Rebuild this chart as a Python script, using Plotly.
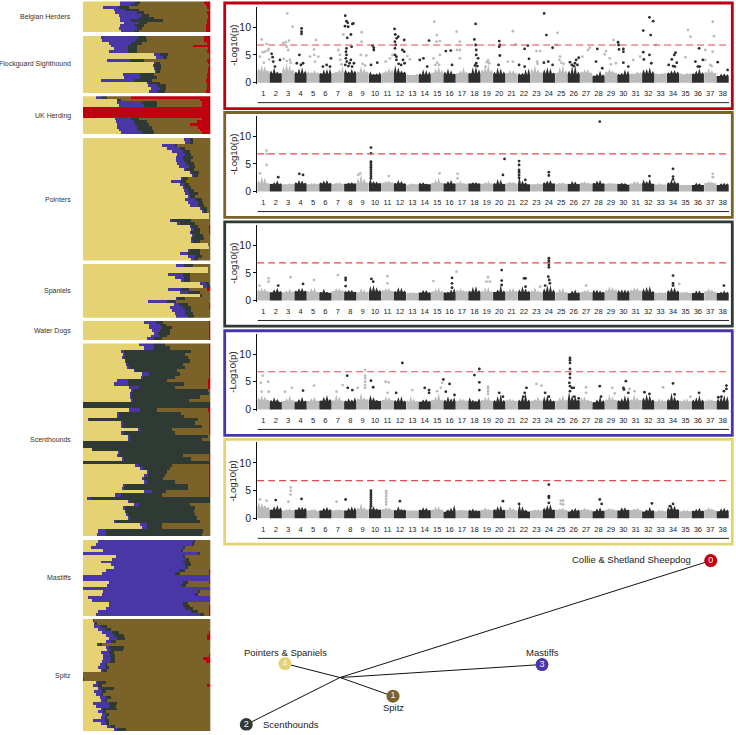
import plotly.graph_objects as go

W, H = 736, 735
Y_SPAN = 731.5
FONT = "Liberation Sans"
YELLOW, PURPLE, DARK, BROWN, RED = "#E4D273", "#4A37A6", "#2F3A35", "#7A6229", "#BE0010"
ADMIX_COLORS = [YELLOW, PURPLE, DARK, BROWN, RED]

# Admixture: cumulative percentage at the end of yellow, purple, dark, brown; red fills the rest
BELGIAN = [(29,41,45,95),(29,38,43,96),(16,28,36,97),(24,33,44,99),(25,42,48,97),(28,46,52,98),
           (29,44,56,98),(29,38,63,97),(32,44,50,97),(29,41,48,96),(28,42,46,96),(30,40,44,96)]
FLOCKGUARD = [(14,43,49,95),(15,41,50,95),(20,38,46,97),(22,35,42,86),(24,35,42,98),(20,35,42,97),
              (56,60,67,99),(57,63,66,99),(19,37,48,97),(56,57,60,98),(55,56,61,99),(56,57,61,98),
              (57,57.5,60,98),(31,45,56,97),(32,45,58,97),(14,40,54,96),(50,52,60,97),(51,58,65,97),
              (53,60,65,97),(52,58,64,96)]
UK_HERDING = [(10,15,19,38),(27,27,30,92),(27,46,58,93),(28,48,58,93),(0,0,0,0),(0,0,0,0),(0,0,0,0),
              (0,0,0,0),(25,38,44,93),(26,40,50,89),(27,41,52,84),(27,42,54,90),(28,43,55,92),(30,46,56,93)]
POINTERS = [(79,84,86,100),(80,84,86,100),(62,72,74,100),(66,76,80,100),(70,78,84,100),(74,80,85,100),
            (73,78,86,100),(73,79,85,100),(74,81,87,100),(75,83,88,100),(79,81,87,100),(84,85,91,100),
            (86,87,90,100),(77,78,82,100),(69,77,81,100),(76,79,83,100),(78,80,85,100),(79,82,87,100),
            (80,83,90,100),(82,84,88,100),(80,88,93,100),(82,90,94,100),(84,90,95,100),(92,93,97,100),
            (94,95,97,100),(99,99,99,100),(99,99,99,100),(68,70,85,100),(74,76,88,100),(84,85,90,99),
            (85,87,92,99),(84,85,92,99),(86,87,94,100),(85,85.5,95,100),(85,86,92,100),(98,98,98,100),
            (99,99,99,100),(82,84,92,100),(76,82,92,100),(82,88,93,100),(85,87,90,100)]
SPANIELS = [(73,79,86,100),(98,98,98,100),(98,98,98,100),(67,78,84,100),(72,79,84,100),(77,79,84,100),
            (92,96,99,100),(94,97,100,100),(67,77,83,97),(76,82,92,100),(92,92,93,100),(73,74,80,100),
            (51,66,73,100),(71,75,82,99),(68,78,85,99),(70,80,85,100),(72,80,86,100),(73,82,87,100)]
WATER_DOGS = [(48,57,63,99),(52,60,65,99),(52,62,70,99),(54,60,68,99),(56,59,68,99),(53,60,66,99),(50,56,62,99)]
SCENTHOUNDS = [(44,55,64,99),(48,56,68,99),(30,32,85,99),(31,33,80,99),(31,32,82,99),(33,34,84,99),
               (34,35,78,99),(35,36,80,99),(40,41,74,99),(46,52,76,99),(46,47,72,99),(27,35,66,98),
               (24,35,79,98),(36,44,72,98),(38,39,98,100),(37,38,99,100),(37,38,92,100),(38,39,83,100),
               (0,0,100,100),(0,0,100,100),(36,45,58,98),(27,28,77,99),(27,28,79,99),(4,5,90,99),
               (30,31,88,99),(30,31,93,99),(43,45,70,99),(30,32,72,99),(35,37,98,100),(36,37,93,100),
               (0,0,100,100),(0,0,100,100),(7,7,100,100),(28,29,100,100),(27,28,78,99),(31,32,85,99),
               (0,0,100,100),(41,44,70,99),(45,47,68,99),(50,52,66,99),(48,51,64,99),(46,48,63,99),
               (48,50,72,99),(32,33,82,99),(31,32,82,99),(48,54,65,99),(25,30,62,99),(3,6,100,100),
               (36,37,100,100),(40,44,84,100),(32,33,88,100),(33,34,87,100),(34,35,88,100),(36,37,89,100),
               (25,26,92,100),(45,50,62,100),(46,50,62,100),(12,18,94,100),(11,18,93,100)]
MASTIFFS = [(12,86,88,100),(10,86,87,100),(6,78,80,100),(16,77,78,100),(0,90,92,100),(26,78,80,100),
            (23,80,83,100),(14,78,84,100),(22,80,85,100),(24,80,82,100),(18,75,80,99),(15,72,76,99),
            (0,100,100,100),(0,100,100,100),(20,78,82,99),(19,77,81,100),(0,100,100,100),(16,90,92,100),
            (15,88,90,100),(4,100,100,100),(7,100,100,100),(20,78,82,100),(20,78,84,99),(18,80,86,99),
            (12,85,90,99),(10,92,95,99)]
SPITZ = [(8,8.5,9,100),(9,10,11,100),(9,14,19,100),(12,18,22,100),(15,23,28,99),(18,24,32,97),(20,27,33,97),
         (18,22,26,100),(11,14,15,100),(18,20,32,100),(19,22,31,100),(14,20,24,100),(16,21,25,99),(16,22,25,94),
         (15,21,25,96),(13,18,19,100),(12,18,20,100),(14,16,19,100),(0,0,0,100),(0,0,0,100),(0,0.5,1,100),
         (10,12,18,100),(8,12,15,97),(12,14,24,100),(9,15,18,100),(10,14,16,100),(13,18,22,100),(14,18,19,100),
         (8,20,27,100),(10,20,26,100),(14,16,27,100),(12,16,18,100),(15,18,20,100),(14,18,19,100),(8,17,20,100),
         (14,18,20,100),(19,22,25,100),(24,27,34,100)]
GROUP_NAMES = ["Belgian Herders", "Flockguard Sighthound", "UK Herding", "Pointers", "Spaniels",
               "Water Dogs", "Scenthounds", "Mastiffs", "Spitz"]
GROUP_ROWS = [BELGIAN, FLOCKGUARD, UK_HERDING, POINTERS, SPANIELS, WATER_DOGS, SCENTHOUNDS, MASTIFFS, SPITZ]

# Manhattan panels: solid base per chromosome, four spike heights per chromosome, then individual hits
CHROMS = list(range(1, 39))
THRESHOLD = 6.8
BASE_1 = [2.0,1.6,2.0,1.6,1.7,1.5,1.8,1.7,1.8,1.4,1.8,1.7,1.4,1.4,1.8,1.5,1.7,1.6,1.9,1.5,1.7,1.4,1.8,1.6,1.8,1.5,1.8,1.2,1.8,1.4,1.6,1.6,1.5,1.6,1.5,1.5,1.7,1.2]
BASE_2 = [1.5,1.3,1.3,1.4,1.3,1.4,1.4,1.4,1.6,1.4,1.6,1.4,1.3,1.3,1.5,1.4,1.4,1.4,1.4,1.3,1.5,1.3,1.3,1.4,1.4,1.3,1.5,1.4,1.4,1.3,1.4,1.4,1.2,1.4,1.2,1.2,1.5,1.2]
BASE_3 = [1.6,1.5,1.5,1.6,1.5,1.4,1.7,1.5,1.5,1.6,1.7,1.5,1.3,1.4,1.5,1.4,1.6,1.5,1.5,1.5,1.6,1.5,1.5,1.5,1.4,1.3,1.5,1.4,1.7,1.4,1.7,1.5,1.3,1.5,1.4,1.3,1.6,1.3]
BASE_4 = [1.6,1.4,1.5,1.4,1.5,1.5,1.5,1.4,1.7,1.5,1.6,1.4,1.4,1.4,1.6,1.4,1.5,1.4,1.5,1.4,1.5,1.4,1.5,1.4,1.5,1.5,1.5,1.3,1.6,1.4,1.6,1.5,1.4,1.5,1.4,1.4,1.5,1.4]
BASE_5 = [1.9,1.5,1.4,1.5,1.4,1.4,1.4,1.4,1.6,1.5,1.6,1.4,1.4,1.4,1.5,1.3,1.4,1.3,1.5,1.4,1.5,1.3,1.4,1.5,1.5,1.3,1.5,1.3,1.5,1.4,1.5,1.3,1.3,1.5,1.3,1.3,1.5,1.3]
SKY_1 = [[2.6,3.2,3.0,2.2],[2.2,2.8,2.0,1.8],[3.0,3.6,3.2,2.4],[2.0,2.6,2.8,2.2],[2.0,1.9,2.3,1.9],[1.8,2.4,2.5,2.6],
         [1.7,2.0,2.4,3.0],[2.4,2.0,2.5,2.2],[2.0,3.0,2.6,2.0],[2.0,1.6,1.7,1.9],[1.8,2.2,2.7,2.5],[3.2,2.8,2.2,2.0],
         [1.5,1.4,1.5,1.6],[1.7,2.4,2.3,2.0],[1.8,2.6,3.0,2.3],[2.0,2.6,2.2,1.6],[1.7,2.2,2.8,2.0],[1.8,2.8,3.0,2.4],
         [2.4,3.0,3.4,2.3],[2.0,2.8,2.6,2.0],[1.8,2.3,2.2,1.7],[1.7,1.8,2.4,2.6],[2.6,3.2,2.4,1.9],[2.4,2.8,2.6,1.8],
         [1.8,2.8,3.2,2.2],[2.2,3.0,3.2,2.0],[2.0,2.4,2.4,1.8],[1.3,1.6,2.2,1.5],[2.0,2.6,2.2,1.8],[1.6,1.8,2.4,2.2],
         [1.6,1.7,2.0,1.9],[2.4,2.5,2.8,2.1],[1.7,1.6,1.8,1.9],[1.9,2.2,2.3,2.0],[1.7,1.5,1.8,1.8],[1.7,2.2,2.6,1.9],
         [2.0,2.7,2.3,1.8],[1.2,1.6,1.7,1.5]]
SKY_2 = [[2.0,2.8,2.6,1.5],[1.4,1.7,2.0,1.5],[1.3,1.4,1.5,1.4],[1.7,2.1,2.0,1.6],[1.3,1.5,1.6,1.4],[1.7,2.0,2.1,1.6],
         [1.3,1.6,1.7,1.4],[1.4,1.6,1.7,1.5],[2.5,3.2,2.4,1.6],[2.4,1.9,1.8,1.6],[1.6,1.9,2.0,1.7],[1.6,2.1,1.9,1.5],
         [1.2,1.5,1.4,1.3],[1.6,1.7,1.4,1.3],[1.6,2.2,2.6,1.7],[1.5,1.9,2.1,1.5],[1.7,2.0,1.6,1.4],[1.5,1.7,1.7,1.5],
         [1.4,1.7,1.9,1.5],[1.6,2.3,2.2,1.4],[1.5,1.8,1.7,1.4],[2.8,2.0,1.7,1.3],[1.3,1.4,1.5,1.4],[1.7,2.0,2.1,1.5],
         [1.4,1.6,1.7,1.4],[1.4,1.9,1.8,1.4],[1.7,1.8,1.6,1.4],[1.6,2.0,2.1,1.5],[1.4,1.6,1.5,1.4],[1.4,1.6,1.5,1.2],
         [1.5,1.9,1.9,1.5],[2.2,1.9,2.3,1.4],[1.3,1.6,1.5,1.3],[1.7,2.2,2.0,1.6],[1.2,1.3,1.3,1.3],[1.2,1.6,1.5,1.2],
         [1.6,1.9,1.8,1.5],[1.2,1.5,1.6,1.5]]
SKY_3 = [[2.0,2.4,2.2,1.7],[1.5,2.0,2.3,1.7],[1.5,1.8,2.2,1.7],[1.8,2.2,2.3,1.8],[1.7,2.2,2.4,1.6],[1.6,2.1,1.6,1.4],
         [1.7,2.2,2.2,1.8],[1.7,1.9,1.9,1.6],[1.5,2.2,2.0,1.6],[2.6,2.8,2.4,1.9],[1.9,2.2,2.2,1.7],[1.7,2.4,2.3,1.8],
         [1.4,1.5,1.5,1.4],[1.5,1.9,1.9,1.5],[1.7,2.2,2.4,1.8],[1.5,1.6,2.0,2.2],[2.0,2.2,1.9,1.7],[1.8,2.5,2.6,1.9],
         [1.8,2.4,2.5,1.7],[1.6,2.0,2.8,1.8],[1.7,2.2,2.3,1.7],[2.0,2.6,2.2,1.7],[1.9,2.5,1.8,1.5],[2.2,2.8,2.8,2.0],
         [1.6,2.2,2.4,1.6],[1.3,1.8,2.0,1.5],[1.6,1.9,2.0,1.6],[2.0,2.0,1.8,1.6],[2.0,2.6,2.4,2.0],[1.9,2.0,2.0,1.9],
         [2.0,2.4,2.4,1.8],[2.2,2.5,2.6,1.7],[1.4,1.6,1.5,1.5],[1.9,2.4,2.4,1.8],[1.5,1.6,1.6,1.4],[1.4,1.8,1.8,1.4],
         [1.7,2.2,2.0,1.6],[1.4,1.6,1.8,1.6]]
SKY_4 = [[2.2,2.6,2.4,1.8],[1.7,2.2,1.9,1.3],[1.5,2.0,2.6,1.8],[1.4,1.9,2.3,1.6],[1.5,2.0,2.3,1.6],[1.6,2.3,2.6,1.9],
         [1.7,2.8,2.4,1.6],[1.6,2.0,1.8,2.2],[2.0,3.0,2.2,1.9],[2.6,2.2,1.7,1.5],[1.8,2.4,2.2,1.7],[1.7,2.2,2.4,1.6],
         [1.6,2.4,2.0,1.5],[1.4,1.8,1.9,1.5],[1.7,2.4,3.0,1.8],[1.8,2.4,2.0,2.2],[1.6,2.0,1.9,1.6],[2.2,1.7,1.5,2.0],
         [1.8,2.3,2.4,1.6],[1.7,2.4,2.8,1.7],[1.8,2.0,1.8,1.5],[1.8,2.6,3.0,1.8],[1.6,1.9,2.4,1.7],[2.4,2.6,2.0,1.6],
         [1.6,2.2,2.6,1.8],[3.2,2.6,2.4,1.8],[2.2,2.4,1.8,1.5],[1.3,1.8,2.4,1.7],[1.9,2.8,2.4,1.8],[1.7,2.0,2.6,2.4],
         [1.9,2.8,2.2,1.7],[2.2,2.8,2.6,1.8],[1.5,2.0,1.9,1.6],[1.9,3.0,2.4,1.7],[1.6,1.9,2.0,1.6],[1.8,2.2,2.6,1.8],
         [1.6,1.9,1.8,1.5],[2.0,2.4,2.6,2.4]]
SKY_5 = [[3.0,2.8,2.4,2.0],[1.6,2.2,2.4,2.0],[1.4,1.7,1.8,1.5],[1.6,2.1,2.1,1.9],[1.4,1.6,1.7,1.3],[1.4,1.9,2.1,1.7],
         [1.4,1.6,1.7,1.5],[1.4,1.9,2.2,2.0],[2.0,2.8,2.0,1.6],[2.4,2.2,1.8,1.6],[1.7,2.0,1.9,1.5],[1.5,2.2,1.7,1.6],
         [1.4,1.5,1.4,1.4],[1.6,2.0,1.9,1.5],[1.6,2.2,2.2,1.6],[1.1,1.6,1.9,2.4],[1.4,1.6,1.5,1.4],[1.6,1.8,1.5,1.4],
         [1.6,2.0,1.7,1.5],[1.7,2.2,2.3,1.6],[1.6,2.2,1.8,1.4],[2.6,2.2,1.6,1.2],[1.4,1.6,1.6,1.5],[1.9,2.4,2.6,1.6],
         [1.6,1.8,1.9,1.5],[1.2,1.7,1.9,1.6],[1.6,1.9,1.7,1.4],[1.3,1.8,2.0,1.4],[1.6,1.9,1.7,1.4],[1.4,2.0,2.0,1.6],
         [1.5,1.8,1.9,1.4],[1.2,1.6,2.1,1.5],[1.3,1.6,1.5,1.3],[2.0,2.4,2.3,1.7],[1.3,1.5,1.5,1.3],[1.4,1.7,1.9,1.4],
         [1.6,2.0,1.8,1.4],[1.3,1.8,1.9,1.6]]

HITS_1 = [(.87,7.8),(1.27,7),(.95,5.5),(1.13,5.6),(1.35,5.8),(1.45,6.1),(.73,4.7),(1.48,4.2),(1.67,5.2),(1.75,4.6),(1.8,3.8),(2.34,4.1),(1.94,2.9),
          (2.93,12.5),(3.36,10.1),(2.6,7.2),(2.8,7.3),(3.07,7.6),(2.88,6.5),(3,5.9),(2.65,4.3),(3.2,3.6),(4.08,9.8),(4.08,9.2),(4.08,8.8),(3.9,5),(3.7,3.5),(4.03,3.2),(4.2,3.5),
          (5.24,7.7),(5.08,6),(5.1,5),(4.76,4.7),(5.43,4.7),(5.16,3.8),(6.45,4.4),(6.1,3.2),(6.37,2.9),(7.04,5.9),(7.17,5),(7.2,4.1),(7.3,3.3),
          (7.6,12.1),(7.7,11.1),(7.8,10.8),(7.58,10.2),(7.84,10.1),(8.17,10.6),(8.25,10.7),(7.44,8.7),(8.06,8.7),(7.76,8.1),(8.11,6.5),(7.7,6.2),(7.66,5.6),(7.7,5),(7.65,4.4),(7.72,3.8),(7.6,3.2),(8.05,4.1),(7.95,3.5),(8.3,3.5),
          (8.92,9.1),(8.92,7.4),(8.85,5),(9.3,4.9),(9.8,6.7),(9.9,6.3),(9.9,5.9),(9.67,3.2),(10.18,3.6),(11.4,5),(11.2,4.4),(10.85,3.8),
          (11.57,9.7),(11.63,8.7),(11.74,8),(11.87,8.3),(12.35,7.7),(11.6,7.4),(11.66,6.8),(11.6,6.2),(12.2,5.9),(12.35,5.6),(11.6,5),(11.72,4.7),(11.72,4.1),(12.25,4.1),(12.38,3.5),
          (12.6,4.8),(12.8,4.2),(14.35,7.6),(13.9,4.4),(13.6,4.1),(14.2,2.9),(14.77,11),(14.98,8.6),(14.95,7.4),(15.22,7.5),(15.22,5),(14.7,4.4),(14.85,3.2),
          (15.7,5.7),(16.1,5.8),(16.2,3.2),(16.57,9.2),(16.83,7.4),(16.83,5.9),(16.6,5.9),(16.83,4.4),
          (18.1,10.6),(18,7.8),(18.1,6.8),(18.15,5.9),(18.15,5),(18.3,4.4),(18.15,3.5),(19.1,4),(18.9,2.9),
          (20,7.5),(20.05,6.8),(20.05,4.9),(20,6.5),(19.95,3.2),(21.1,9.3),(21.3,6.9),(20.7,3.8),(21.1,3.8),(22.3,6.7),(22.05,6.1),(22.4,4.3),(21.6,3.2),(22.05,2.9),
          (23,5.7),(23.3,5.7),(23.05,3.8),(23.62,12.5),(23.8,8.6),(24.3,6.3),(23.95,3.8),(24.3,3.2),(23.6,3.6),(24.7,9),(24.6,6.8),(24.9,4.7),(24.85,4.1),
          (26.4,4.5),(26.2,4.1),(25.7,3.7),(26.1,3.5),(25.85,3.2),(27.15,5.9),(27.3,6.3),(26.7,4.7),(27.9,6.1),(27.8,3.8),(28.6,5.7),(28.5,5.1),(28.3,2.6),(29.2,7.7),(28.9,4.4),(29.4,3.5),
          (29.57,7.3),(29.62,6.8),(30,6.1),(30,5.6),(29.65,6),(30,3.6),(30.4,2.9),(30.8,4.1),(31.35,4.7),(32.1,11.8),(32.4,11.1),(31.6,9.4),(32.2,8.6),(31.6,5.5),(32.1,5),(31.65,4.2),(32.25,3.5),
          (32.6,6.8),(34.2,5.4),(34.1,5),(33.9,4.2),(34.3,3.6),(33.65,3.2),(35.2,9.5),(35.4,8.3),(35,4.6),(36.1,6.2),(36.4,4.1),(35.8,3.8),(36.15,2.9),
          (37.2,11),(37.3,8.4),(36.6,5.9),(37.2,5.6),(36.6,4.1),(37,3.2),(37.6,3.7),(38.4,2.3),
          (1.05,3.6),(2.9,3.9),(3.15,4.1),(5.8,2.9),(7.85,3),(8.15,2.9),(9,3.4),(9.2,3.1),(11.9,3.4),(12.1,3.2),(15,3.6),(15.15,3.2),(18.05,3.1),(18.25,3),
          (19,3.7),(19.2,3.5),(23.1,3.4),(25,3.6),(25.2,3.4),(26,3),(26.3,3.2),(29,3.3),(34,3),(34.15,2.9),(36,2.9),(37.1,3)]
HITS_2 = [(1.27,7.4),(1.27,6.8),(1.27,4.8),(.73,3.3),(2.2,2.6),(3.9,3.2),(4.2,3),(8.8,3.3),(8.65,3),(9.67,7.95),(9.67,6.9),(9.67,5.4),(9.67,5.2),(9.67,4.8),(9.67,4.4),(9.67,4),(9.67,3.6),(9.67,3.2),(9.67,2.8),(9.67,2.4),
          (11.1,2.8),(15.2,3.3),(16.65,3.2),(16.65,2.4),(20.43,5.9),(21.6,5.5),(21.6,4.8),(21.6,3.9),(21.6,3.5),(21.6,3),(21.6,2.5),(20.3,3),(28.1,12.65),(24,3.5),(24,2.9),(22.1,2.1),(34,4.1),(34,2.7),(34,2.2),(37.2,3.2),(37.2,2.6),(32.1,2.8)]
HITS_3 = [(.7,2.7),(1.43,4),(1.43,3.4),(3.2,4.2),(5.08,3.7),(7,4.6),(7.63,4.1),(7.63,3.7),(7.63,2.6),(9.7,3.9),(9.85,3.4),(11,4.4),(11,3.1),(16.2,4.1),(16.2,3.1),(16.2,2.3),(16.56,5.2),(14.7,3.5),(2.2,2.7),(4.2,3),
          (24,7.65),(24,7.2),(24,6.9),(24,6.4),(24,6),(23.95,4.3),(24.03,3.7),(24.08,3.1),(23.7,2.7),(20.2,5.5),(20.2,3.6),(20.2,2.8),(22,4),(22.12,4),(22.12,2.5),(19.1,4.2),(19.25,3.4),(18.97,3.4),
          (34,4.5),(34,3.1),(34,2.7),(34.5,3),(38.1,2.7),(27,2.7),(23.3,2.5)]
HITS_4 = [(.95,6.1),(1.4,5),(.8,4.8),(.87,3.2),(1.43,3.2),(3.3,3.9),(2.75,3.2),(4.2,3.4),(5.08,4.3),(6.9,3.2),(7.4,4.4),(7.76,6.1),(7.8,3.9),(8.17,3.5),(9.2,7.1),(9.2,6.1),(9.2,5.6),(9.2,5),(9.2,4.4),(9.2,3.9),(8.6,3.9),(9.67,5.2),(9.85,4),
          (10.85,5),(11.1,4.9),(11,3),(12.2,8.4),(11.7,3),(13,3.5),(14,3.9),(14.35,3.5),(14.35,3),(15.5,5.4),(15.4,4.8),(15.3,3.9),(15,3.3),(16,4.6),(15.7,3.2),(16.4,2.6),(18,6.2),(18.4,7.3),(18.4,4.9),(18.4,3.5),
          (19.1,4.1),(19.1,3.8),(19.1,3.3),(19.1,2.8),(20,3),(20.3,2.3),(22.2,3.9),(22.05,3),(21.95,2.3),(23.7,3),(24,2.3),(23.4,4.3),(23,4.6),
          (25.7,9.3),(25.7,8.9),(25.7,8.4),(25.7,7.3),(25.7,6.4),(25.7,5.7),(25.65,4.8),(25.7,4.2),(25.85,3.9),(26,3.9),(25.7,3.3),(26.05,2.3),(26.4,2),(27,4),(27,3),(28.1,4.2),(28.2,2.3),(29.1,3.9),(29.3,2.9),
          (30.2,5.1),(30,3.9),(30.05,3.6),(30.4,3),(30.5,3.7),(30.9,3.3),(31.7,3.1),(32.1,2.8),(33.2,4),(34,4.7),(34.13,2.7),(35.4,2.3),(36.1,3),(38.3,4.3),(38.3,3.7),(38.1,3.3),(37.9,2.3),(37.65,2.2)]
HITS_5 = [(3.2,5.6),(3.2,5),(3.2,4.3),(3.02,3),(2,3.3),(4.08,3.5),(6.9,3),(7.63,3.4),(9.67,5),(9.67,4.6),(9.67,4.2),(9.67,3.8),(9.67,3.4),(9.67,3),(9.67,2.6),(9.67,2.2),
          (10.9,4.9),(10.9,4.5),(10.9,4),(10.9,3.5),(10.9,3),(10.9,2.5),(12,3.1),(.73,3.4),(1.27,3.2),(24,6.1),(24,4),(24,3.7),(24,2.8),(28.1,3.4),(28.25,2.6),
          (24.95,3.2),(25.15,3.2),(24.95,2.6),(25.15,2.5),(20.3,3.1),(32.3,2.7),(34,2.6),(33.75,2.2),(21.6,2.6)]
BASES = [BASE_1, BASE_2, BASE_3, BASE_4, BASE_5]
SKYLINES = [SKY_1, SKY_2, SKY_3, SKY_4, SKY_5]
HITS = [HITS_1, HITS_2, HITS_3, HITS_4, HITS_5]
FRAME_COLORS = [RED, BROWN, DARK, PURPLE, YELLOW]

# Tree: node positions in the tree plot's own units
NODE_IDS = ["0", "1", "2", "3", "4"]
NODE_X = [490.7, 173, 26.3, 322, 65]
NODE_Y = [21, 156.7, 185, 125, 124]
NODE_COLORS = [RED, BROWN, DARK, PURPLE, YELLOW]
JUNCTION_X, JUNCTION_Y = 120, 138
TREE_LABELS = ["Collie & Shetland Sheepdog", "Spitz", "Scenthounds", "Mastiffs", "Pointers & Spaniels"]

GRAY, BLACK = "#BBBBBB", "#2E2E2E"

def px_x(v): return v / W
def px_y(v): return max(0, 1 - v / Y_SPAN)

fig = go.Figure()
annotations, shapes = [], []
layout = {}

# --- admixture panels
GROUP_TOP = [1.5, 36, 96.3, 138, 264.3, 321.3, 343.7, 540, 619.3]
GROUP_BOT = [32.7, 93, 134.3, 260.7, 318, 340.3, 536.7, 616.3, 733]
GROUP_LABEL_Y = [17.3, 64.3, 115.7, 199.7, 291.3, 331, 440.3, 578.3, 676.3]
axis_no = 1
for name, rows, top, bot, ly in zip(GROUP_NAMES, GROUP_ROWS, GROUP_TOP, GROUP_BOT, GROUP_LABEL_Y):
    xa, ya = f"x{axis_no}", f"y{axis_no}"
    idx = list(range(len(rows)))
    prev = [0] * len(rows)
    for k, col in enumerate(ADMIX_COLORS):
        ends = [r[k] if k < 4 else 100 for r in rows]
        fig.add_trace(go.Bar(x=[e - p for e, p in zip(ends, prev)], y=idx, orientation="h", xaxis=xa, yaxis=ya,
                             marker=dict(color=col, line=dict(width=0)), showlegend=False, hoverinfo="skip"))
        prev = ends
    layout[f"xaxis{axis_no}"] = dict(domain=[px_x(82.7), px_x(210.3)], range=[0, 100], visible=False, anchor=ya)
    layout[f"yaxis{axis_no}"] = dict(domain=[px_y(bot), px_y(top)], range=[len(rows) - 0.5, -0.5], visible=False, anchor=xa)
    annotations.append(dict(text=name, x=px_x(73), y=px_y(ly), xref="paper", yref="paper", xanchor="right", yanchor="middle",
                            showarrow=False, font=dict(family=FONT, size=7, color="#333333")))
    axis_no += 1

# --- Manhattan panels
ZERO_Y = [82.7, 191.7, 300.7, 409.7, 518.7]
FRAME_TOP = [3, 112.6, 222, 331, 439.7]
FRAME_BOT = [108.7, 217.6, 326.3, 435.7, 544.5]
UNIT = 5.54
for p, (base, sky, hits, zero, ft, fb, fc) in enumerate(zip(BASES, SKYLINES, HITS, ZERO_Y, FRAME_TOP, FRAME_BOT, FRAME_COLORS)):
    xa, ya = f"x{axis_no}", f"y{axis_no}"
    for parity, col in ((1, GRAY), (0, BLACK)):
        sx, sy = [], []
        for c, b, v in zip(CHROMS, base, sky):
            if c % 2 == parity:
                sx += [c - 0.49, c - 0.49, c - 0.375, c - 0.25, c - 0.125, c, c + 0.125, c + 0.25, c + 0.375, c + 0.49, c + 0.49]
                sy += [0, b, v[0], b, v[1], b, v[2], b, v[3], b, 0]
        fig.add_trace(go.Scatter(x=sx, y=sy, mode="lines", fill="tozeroy", fillcolor=col, line=dict(width=0), xaxis=xa, yaxis=ya,
                                 showlegend=False, hoverinfo="skip"))
        sel = [h for h in hits if int(h[0] + 0.5) % 2 == parity]
        fig.add_trace(go.Scatter(x=[h[0] for h in sel], y=[h[1] for h in sel], mode="markers", xaxis=xa, yaxis=ya,
                                 marker=dict(color=col, size=2.8, line=dict(width=0)), showlegend=False, hoverinfo="skip"))
    fig.add_trace(go.Scatter(x=[0.5, 38.5], y=[THRESHOLD, THRESHOLD], mode="lines", xaxis=xa, yaxis=ya,
                             line=dict(color="#E5484D", width=1.2, dash="7px,4px"), showlegend=False, hoverinfo="skip"))
    ymin, ymax = -0.3, 13.7
    bot_px = zero - ymin * UNIT
    top_px = zero - ymax * UNIT
    layout[f"xaxis{axis_no}"] = dict(domain=[px_x(257.1), px_x(728.9)], range=[0.5, 38.5], anchor=ya, showgrid=False, zeroline=False,
                                     showline=False, tickmode="array", tickvals=CHROMS, ticktext=[str(c) for c in CHROMS],
                                     ticks="", tickangle=0, ticklabelstandoff=3, tickfont=dict(family=FONT, size=7.5, color="#222222"))
    layout[f"yaxis{axis_no}"] = dict(domain=[px_y(bot_px), px_y(top_px)], range=[ymin, ymax], anchor=xa, showgrid=False, zeroline=False,
                                     showline=True, linecolor="#111111", linewidth=1, ticks="outside", ticklen=3, tickcolor="#111111",
                                     tickmode="array", tickvals=[0, 5, 10], ticktext=["0", "5", "10"],
                                     tickfont=dict(family=FONT, size=10.5, color="#222222"))
    annotations.append(dict(text="-Log10(p)", x=px_x(232.7), y=px_y(zero - 37.5), xref="paper", yref="paper", textangle=-90,
                            showarrow=False, xanchor="center", yanchor="middle", font=dict(family=FONT, size=9.5, color="#222222")))
    shapes.append(dict(type="line", xref="paper", yref="paper", x0=px_x(257.7), x1=px_x(729), y0=px_y(zero + 20), y1=px_y(zero + 20),
                       line=dict(color="#222222", width=1)))
    shapes.append(dict(type="rect", xref="paper", yref="paper", x0=px_x(224.7), x1=px_x(732.3), y0=px_y(fb), y1=px_y(ft),
                       line=dict(color=fc, width=2.8), fillcolor="rgba(0,0,0,0)"))
    axis_no += 1

# --- tree
xa, ya = f"x{axis_no}", f"y{axis_no}"
ex, ey = [], []
for nx, ny in zip(NODE_X, NODE_Y):
    ex += [nx, JUNCTION_X, None]
    ey += [ny, JUNCTION_Y, None]
fig.add_trace(go.Scatter(x=ex, y=ey, mode="lines", xaxis=xa, yaxis=ya, line=dict(color="#111111", width=1),
                         showlegend=False, hoverinfo="skip"))
fig.add_trace(go.Scatter(x=NODE_X, y=NODE_Y, text=NODE_IDS, mode="markers+text", textposition="middle center", xaxis=xa, yaxis=ya,
                         marker=dict(color=NODE_COLORS, size=13, line=dict(width=0)),
                         textfont=dict(family=FONT, size=9, color="#F4F4F4"), showlegend=False, hoverinfo="skip"))
layout[f"xaxis{axis_no}"] = dict(domain=[px_x(220), 1], range=[0, 516], visible=False, anchor=ya)
layout[f"yaxis{axis_no}"] = dict(domain=[px_y(731), px_y(540)], range=[191, 0], visible=False, anchor=xa)
offsets = [(-18, -1, "right"), (0, 11, "center"), (15, 0, "left"), (0, -12.5, "center"), (0, -11.5, "center")]
for label, nx, ny, (dx, dy, anc) in zip(TREE_LABELS, NODE_X, NODE_Y, offsets):
    annotations.append(dict(text=label, x=nx, y=ny, xref=xa, yref=ya, xshift=dx, yshift=-dy, xanchor=anc, yanchor="middle",
                            showarrow=False, font=dict(family=FONT, size=9.5, color="#222222")))

fig.update_layout(width=W, height=H, autosize=False, margin=dict(l=0, r=0, t=0, b=0), paper_bgcolor="white", plot_bgcolor="white",
                  barmode="stack", bargap=0, bargroupgap=0, showlegend=False, annotations=annotations, shapes=shapes,
                  font=dict(family=FONT), **layout)
fig.write_html("out.html", config={"displayModeBar": False},
               post_script="document.body.style.margin='0';document.body.style.overflow='hidden';")
